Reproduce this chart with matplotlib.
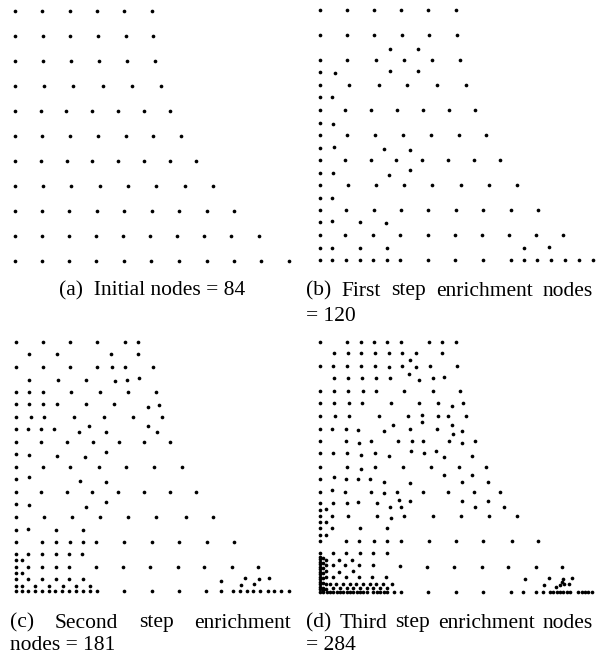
import matplotlib
matplotlib.use("Agg")
import matplotlib.pyplot as plt

# ---------------- node coordinates (x to the right, y upward, px-like units) -------------
# (a) initial nodes
a_x = [0, 27.3, 54.7, 82, 109.3, 136.7,
       0, 27.7, 55.3, 83, 110.7, 138.3,
       0, 27.7, 55.7, 84, 112, 140,
       0, 29, 58.3, 87.7, 117, 146,
       0, 25.7, 51.3, 77.3, 103, 129, 155,
       0, 27.3, 55, 83, 110.7, 138.3, 166,
       0, 25.7, 51.7, 77.3, 103.3, 129, 155, 181,
       0, 28, 56.3, 84.7, 113, 141.3, 169.7, 198,
       0, 27, 54.3, 81.7, 109, 136.7, 164, 191.7, 219,
       0, 27, 53.7, 81, 108, 135, 162, 189, 216.3, 243.7,
       0, 27, 54, 81.3, 108.7, 136.3, 164, 191.7, 219, 246.3, 273.7]
a_y = [250] * 6 + [225] * 6 + [200] * 6 + [175] * 6 + [150] * 7 + [125] * 7 + \
      [100] * 8 + [75] * 8 + [50] * 9 + [25] * 10 + [0] * 11

# (b) first step enrichment
b_x = [0, 27.3, 54, 81, 108.3, 135.7,
       0, 27.3, 54, 82.3, 109.3, 137,
       70, 98,
       0, 27.3, 56.3, 84.3, 112.3, 140.3,
       0, 15, 69.7, 98,
       0, 29, 58.7, 87.3, 116.7, 146,
       0, 12.3,
       0, 25, 50.7, 77, 102.7, 128.7, 154.7,
       0, 13.3,
       0, 27, 54.7, 83, 110.7, 138.7, 166,
       0, 13.7, 63.7, 90.3,
       0, 25, 50.7, 76.3, 102, 128, 153.7, 179.7,
       0, 13, 69.3, 90.3,
       0, 28, 56, 84, 112.3, 140.7, 169.3, 197.3,
       0, 12,
       0, 25.7, 53.7, 81, 108, 136, 163.3, 190.7, 218,
       0, 12, 39.7, 66.3,
       0, 25, 52.7, 80, 107.7, 134.7, 162, 188.7, 216, 243,
       0, 12, 39.7, 67.3, 204, 229,
       0, 12, 25.7, 39.7, 52.7, 66.7, 80, 107.7, 135, 162.7, 190.7, 204, 217.3, 231, 245,
       258.7, 272.7]
b_y = [250] * 6 + [225] * 6 + [211.3] * 2 + [200] * 6 + [188, 187, 189, 189.7] + \
      [175] * 6 + [163] * 2 + [150] * 7 + [137.7, 136.3] + [125] * 7 + \
      [112.7, 113.7, 111.3, 110.7] + [100] * 8 + [87, 87, 85.7, 90.3] + [75] * 8 + \
      [62.8] * 2 + [50] * 9 + [38, 39, 38, 37.7] + [25] * 10 + \
      [12.3, 12.3, 12.3, 12.3, 12, 13.7] + [0] * 17

# (c) second step enrichment
c_x = [0, 27.3, 54.3, 81.3, 108.7, 122,
       13.3, 40.7, 95.3, 121.7,
       0, 26.7, 53.7, 81.3, 95.7, 109, 136.7,
       13.3, 42, 70, 99, 111, 123,
       0, 13.3, 27.3, 55, 83.7, 111.7, 140.3,
       0, 13.3, 27.3, 41.3, 69.7, 98, 131.7, 143,
       0, 14.7, 28.3, 58, 87.7, 117.3, 146,
       0, 12, 25, 37.7, 63.3, 72.7, 90, 131.7, 141.3,
       0, 24.7, 50.7, 76.7, 102.7, 128.3, 154,
       0, 13.3, 40.7, 69, 89.7,
       0, 26.7, 54.3, 82.7, 110, 138, 165.7,
       0, 13, 63.7, 89.7,
       0, 24.7, 50.7, 76.3, 102, 127.7, 154.3, 180,
       0, 13, 70, 89.7,
       0, 27.7, 55.7, 84, 112.3, 140.3, 169.7, 197,
       0, 12, 39.7, 66.7,
       0, 25.7, 39.7, 53.7, 67.3, 80.3, 108.3, 135.7, 163.3, 190.7, 218,
       0, 12.3, 26.3, 39.7, 53.3, 66.3,
       0, 5.7,
       0, 12.3, 26.3, 39.7, 53.3, 80.3, 107.3, 134, 161.7, 188.3, 215.7, 242.3,
       0, 5.7,
       0, 12.3, 26.3, 39.7, 53, 67.3, 204.7, 229, 243, 252.7,
       0, 5.7, 19, 33, 46.7, 60, 74, 224.7, 238,
       0, 5.7, 12.3, 19, 25.7, 32.7, 39.3, 46.3, 53, 60, 67, 74, 80.7, 108.3, 135.7, 163,
       190, 204.7, 216.7, 224, 231, 237.3, 244, 251.7, 258, 265.3, 272.7]
c_y = [249] * 6 + [237.3] * 4 + [224] * 7 + [211.7, 211.7, 211.7, 210.7, 211.7, 213] + \
      [199.7] * 7 + [187.3] * 6 + [184.7, 186.7] + [174] * 7 + \
      [162, 162, 162, 162, 159.3, 165.3, 159.7, 165.7, 159.7] + [149.3] * 7 + \
      [137.3, 136, 135.3, 134.7, 139] + [124.7] * 7 + [112, 114, 110.7, 109.3] + \
      [99] * 8 + [87.3, 86.7, 84, 89.7] + [74] * 8 + [61.7, 62.3, 61.3, 61.3] + \
      [49.7] * 11 + [37.3] * 6 + [31.3] * 2 + [24.7] * 12 + [18.7] * 2 + \
      [12.3] * 6 + [10.5, 13.5, 12.2, 13.5] + [5.7] * 7 + [5.9, 7.2] + [0] * 27

# (d) third step enrichment - upper part
d_x = [0, 26.7, 40.7, 54, 67.3, 80.7, 108.7, 121.7, 135.7,
       14, 27.7, 41, 55, 69, 82, 95.7, 121.7,
       90,
       0, 13.3, 27.3, 41, 54.7, 68.7, 82, 96, 110, 136.7,
       88.7,
       14.3, 28.3, 42.3, 56.3, 70, 99, 112.7, 124,
       0, 14, 28, 43.3, 56, 84, 112.7, 140.3,
       0, 14.3, 28.7, 42.3, 71, 99, 118.3, 131.7, 143,
       0, 15, 29, 58.7, 88, 102, 117.7, 127.7, 146.3,
       102, 72.7, 131.7,
       0, 12.3, 26.3, 38, 64, 90.3, 116.7, 141.7,
       133,
       0, 25.7, 39, 51, 77.7, 92, 103.3, 128.7, 142, 155,
       0, 13.3, 27, 40.7, 54.7, 69.3, 90.7, 104, 116.3, 124, 152.3,
       0, 27.3, 40.7, 54.7, 83.3, 110.7, 139.3, 165.7,
       0, 13.7, 26.3, 38.3, 50.3, 64.3, 90, 124.3, 141.7, 152.3, 167.7,
       0, 12.3, 25.3, 51, 64.3, 77, 103, 128.3, 154.3, 180,
       79.3, 90.3, 141.7, 167.7,
       0, 13, 27, 38, 56.7, 69.7, 80.7, 155, 183.7,
       0, 6.3,
       0, 12, 27.7, 56.7, 71, 84, 112.7, 140.7, 169.3, 197.3,
       0, 6,
       0, 12.3, 40, 67.3,
       0, 6,
       0, 26.3, 39.3, 54, 67.3, 81.3, 109, 136.3, 163.3, 191.7, 218,
       0, 12.7, 26.3, 40, 53.3, 67]
d_y = [249.8] * 9 + [238.2] * 8 + [231.5] + \
      [225.8] * 5 + [224.5, 225.8, 224.5, 225.8, 225.8] + [217.2] + \
      [213.2] * 5 + [211.5, 213.2, 214.5] + [200.5] * 8 + \
      [188.8] * 7 + [185.5, 188.8] + [175.5] * 5 + [176.5, 175.5, 175.5, 175.5] + \
      [169.8, 166.5, 166.5] + [162.5, 162.5, 162.5, 161.8, 160.5, 162.5, 162.5, 160.5] + [157.8] + \
      [150.5, 150.5, 148.8, 150.5, 150.5, 150.5, 150.5, 150.5, 148.3, 150.5] + \
      [138.2, 138.2, 138.2, 136.5, 138.2, 135.8, 140.5, 138.2, 140.5, 134.8, 135.2] + \
      [124.8, 124.8, 122.8, 124.8, 124.8, 124.8, 124.8, 124.8] + \
      [112.5, 114.2, 112.5, 112.5, 112.2, 110, 109, 116.2, 110, 116.2, 110] + \
      [99.8, 101.5, 99.8, 99.8, 99, 99.8, 99.8, 99.8, 99.8, 99.8] + \
      [91.5, 90.5, 90.8, 90.2] + [88.2, 88.2, 88.2, 89.2, 88.2, 84.2, 84.2, 84.2, 84.2] + \
      [81.8, 82.5] + [75.5] * 4 + [73.5] + [75.5] * 5 + [69.8] * 2 + [63.2] * 4 + \
      [56.5] * 2 + [50.5] * 11 + [38.2] * 6

# (d) third step enrichment - dense lower part
d_low_x = [0] * 15 + [3] * 8 + [6] * 6 + \
          [19.3, 32,
           12.7, 25.3, 39.3, 52.7, 80,
           18.7, 32.7,
           12.7, 26, 39.3, 52, 66,
           10, 16, 23, 30, 36, 43, 50, 56, 63, 72,
           13, 20, 27, 33, 40, 47, 53, 60, 67,
           3.3, 6.7, 10, 13.3, 16.7, 20, 23.3, 26.7, 30, 33.3, 36.7, 40, 43.3, 46.7,
           53, 56.5, 60, 63.5, 67, 74,
           107.3, 134, 161.7, 188.3, 215.7, 242.3,
           205, 229.3, 242.7, 252,
           242.3,
           224.3, 240, 244, 248.7,
           235.7,
           80.7, 108.3, 135.7, 163, 191, 203.3, 215.7, 223.3, 230, 233.3, 236.7, 240,
           243.3, 246.7, 250, 258.3, 261.7, 265, 268.3, 271.7]
d_low_y = [0, 2.5, 5, 7.5, 10, 12.5, 15, 17.5, 20, 22.5, 25, 27.5, 30, 32.5, 35] + \
          [1.5, 4, 9, 14, 19, 24, 29, 34] + [32, 26.8, 20.2, 14.2, 8, 3] + \
          [32, 32] + [26.8] * 4 + [26] + [19.5, 20.2] + [14.2] * 5 + [8] * 10 + [4] * 9 + \
          [0] * 20 + [24.7] * 6 + [12.2, 13.8, 12.2, 13.8] + [9.8] + \
          [6.5, 6.5, 7.2, 7.8] + [4.2] + [0] * 20

captions = {
    "a": ["(a)  Initial nodes = 84"],
    "b": ["(b)  First step enrichment nodes", "= 120"],
    "c": ["(c)  Second step enrichment", "nodes = 181"],
    "d": ["(d)  Third step enrichment nodes", "= 284"],
}

# ---------------- layout ----------------
W, H = 599, 656
fig = plt.figure(figsize=(W / 100, H / 100), dpi=100)

# pixel position of node (0, 0) of each panel
origins = {"a": (15, 260.7), "b": (320, 260.3), "c": (16, 591.2), "d": (320, 591.5)}
panels = {"a": (a_x, a_y), "b": (b_x, b_y), "c": (c_x, c_y),
          "d": (d_x + d_low_x, d_y + d_low_y)}

pad = 6
span_x, span_y = 276, 252
for key, (xs, ys) in panels.items():
    ox, oy = origins[key]
    left = (ox - pad) / W
    bottom = (H - (oy + pad)) / H
    ax = fig.add_axes([left, bottom, (span_x + 2 * pad) / W, (span_y + 2 * pad) / H])
    ax.set_xlim(-pad, span_x + pad)
    ax.set_ylim(-pad, span_y + pad)
    ax.axis("off")
    ax.scatter(xs, ys, s=7, c="black", linewidths=0)

font = dict(family="Liberation Serif", fontsize=15.5, color="black")


def fx(px):
    return px / W


def fy(py):
    return 1 - py / H


# (a) centred
fig.text(fx(152), fy(291), captions["a"][0], ha="center", va="center", **font)

renderer = fig.canvas.get_renderer()


def justified(line, x0, x1, py):
    words = line.replace("  ", " ").split(" ")
    txts = [fig.text(0, fy(py), w, ha="left", va="center", **font) for w in words]
    widths = [t.get_window_extent(renderer).width for t in txts]
    gap = (x1 - x0 - sum(widths)) / (len(words) - 1)
    x = x0
    for t, w in zip(txts, widths):
        t.set_x(fx(x))
        x += w + gap


justified(captions["b"][0], 306, 593, 291)
fig.text(fx(306), fy(317), captions["b"][1], ha="left", va="center", **font)
justified(captions["c"][0], 10, 291, 623)
fig.text(fx(10), fy(655.5), captions["c"][1], ha="left", va="bottom", **font)
justified(captions["d"][0], 306, 593, 623)
fig.text(fx(306), fy(655.5), captions["d"][1], ha="left", va="bottom", **font)

fig.savefig("out.png", dpi=100)
